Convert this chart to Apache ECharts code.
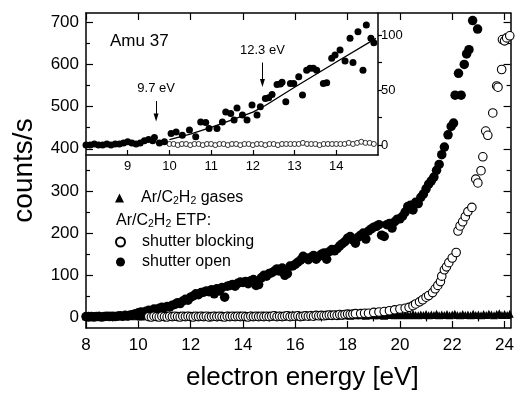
<!DOCTYPE html>
<html><head><meta charset="utf-8">
<script src="https://cdn.jsdelivr.net/npm/echarts@6/dist/echarts.min.js"></script>
<style>html,body{margin:0;padding:0;background:#fff}#c{width:517px;height:396px}</style>
</head><body><div id="c"></div>
<script>
const FONT = '"Liberation Sans", Arial, Helvetica, sans-serif';

// ---- main plot: tick labels ----
const xMajor = [8,10,12,14,16,18,20,22,24];
const xMinor = [9,11,13,15,17,19,21,23];
const yMajor = [0,100,200,300,400,500,600,700];
const yMinor = [50,150,250,350,450,550,650];
// ---- inset tick labels ----
const insetX = [9,10,11,12,13,14];
const insetYMajor = [0,50,100];
const insetYTicks = [0,25,50,75,100];

// ---- Ar/C2H2 gases (triangles) ----
const gases = [[8.0,3],[8.1,5],[8.2,2],[8.3,4],[8.4,3],[8.5,6],[8.6,2],[8.7,4],[8.8,3],[8.9,5],
[9.0,2],[9.1,4],[9.2,6],[9.3,3],[9.4,4],[9.5,2],[9.6,5],[9.7,3],[9.8,4],[9.9,6],
[10.0,3],[10.1,2],[10.2,5],[10.3,4],[10.4,3],[10.5,6],[10.6,4],[10.7,2],[10.8,5],[10.9,3],
[11.0,4],[11.1,6],[11.2,3],[11.3,5],[11.4,2],[11.5,4],[11.6,6],[11.7,3],[11.8,4],[11.9,5],
[12.0,3],[12.1,6],[12.2,4],[12.3,2],[12.4,5],[12.5,4],[12.6,3],[12.7,6],[12.8,4],[12.9,5],
[13.0,3],[13.1,4],[13.2,6],[13.3,3],[13.4,5],[13.5,4],[13.6,2],[13.7,5],[13.8,4],[13.9,6],
[14.0,3],[14.1,5],[14.2,4],[14.3,6],[14.4,3],[14.5,4],[14.6,5],[14.7,3],[14.8,6],[14.9,4],
[15.0,5],[15.1,3],[15.2,6],[15.3,4],[15.4,5],[15.5,3],[15.6,6],[15.7,4],[15.8,5],[15.9,7],
[16.0,4],[16.1,5],[16.2,3],[16.3,6],[16.4,5],[16.5,4],[16.6,7],[16.7,4],[16.8,5],[16.9,6],
[17.0,4],[17.1,7],[17.2,5],[17.3,4],[17.4,6],[17.5,5],[17.6,7],[17.7,4],[17.8,6],[17.9,5],
[18.0,7],[18.1,4],[18.2,6],[18.3,5],[18.4,8],[18.5,5],[18.6,6],[18.7,4],[18.8,7],[18.9,6],
[19.0,5],[19.1,8],[19.2,5],[19.3,6],[19.4,4],[19.5,7],[19.6,6],[19.7,9],[19.8,5],[19.9,6],
[20.0,7],[20.1,5],[20.2,8],[20.3,6],[20.4,5],[20.5,9],[20.6,6],[20.7,5],[20.8,7],[20.9,6],
[21.0,8],[21.1,5],[21.2,7],[21.3,6],[21.4,9],[21.5,5],[21.6,7],[21.7,6],[21.8,8],[21.9,5],
[22.0,7],[22.1,9],[22.2,6],[22.3,5],[22.4,8],[22.5,6],[22.6,7],[22.7,5],[22.8,9],[22.9,6],
[23.0,7],[23.1,5],[23.2,8],[23.3,6],[23.4,9],[23.5,7],[23.6,5],[23.7,8],[23.8,10],[23.9,6],
[24.0,8],[24.1,6],[24.2,9]];

// ---- ETP shutter blocking (open circles) ----
const blocking = [[10.4,2],[10.5,1],[10.6,3],[10.7,2],[10.8,1],[10.9,3],[11.0,2],[11.1,1],[11.2,3],[11.3,2],
[11.4,3],[11.5,2],[11.6,1],[11.7,3],[11.8,2],[11.9,3],[12.0,2],[12.1,1],[12.2,3],[12.3,2],
[12.4,3],[12.5,2],[12.6,3],[12.7,1],[12.8,2],[12.9,3],[13.0,2],[13.1,3],[13.2,2],[13.3,1],
[13.4,3],[13.5,2],[13.6,3],[13.7,2],[13.8,3],[13.9,2],[14.0,3],[14.1,2],[14.2,1],[14.3,3],
[14.4,2],[14.5,3],[14.6,2],[14.7,3],[14.8,2],[14.9,3],[15.0,2],[15.1,3],[15.2,4],[15.3,2],
[15.4,3],[15.5,2],[15.6,3],[15.7,4],[15.8,2],[15.9,3],[16.0,3],[16.1,4],[16.2,2],[16.3,3],
[16.4,4],[16.5,3],[16.6,4],[16.7,3],[16.8,5],[16.9,4],[17.0,5],[17.1,4],[17.2,5],[17.3,6],
[17.4,5],[17.5,6],[17.6,5],[17.7,7],[17.8,6],[17.9,7],[18.0,8],[18.1,7],[18.2,8],[18.3,9],
[18.5,9],[18.65,10],[18.8,10],[19.0,12],[19.2,13],[19.4,14],[19.6,16],[19.8,18],[20.0,20],[20.2,22],
[20.35,24],[20.5,28],[20.6,32],[20.75,37],[20.87,42],[21.0,48],[21.1,52],[21.25,59],[21.35,68],[21.45,76],
[21.55,85],[21.6,98],[21.7,113],[21.78,120],[21.87,130],[22.0,141],[22.15,154],[22.22,205],[22.3,217],[22.4,227],
[22.5,239],[22.6,251],[22.75,261],[22.9,328],[22.98,319],[23.1,348],[23.17,381],[23.28,442],[23.36,432],[23.55,485],
[23.7,549],[23.75,546],[23.89,588],[23.92,659],[24.0,656],[24.08,663],[24.2,668]];

// ---- ETP shutter open (filled circles) ----
const shutterOpen = [[8.0,2],[8.1,1],[8.2,2],[8.3,1],[8.4,2],[8.5,2],[8.6,1],[8.7,2],[8.8,3],[8.9,2],
[9.0,3],[9.1,2],[9.2,3],[9.3,4],[9.4,3],[9.5,5],[9.6,4],[9.7,6],[9.8,7],[9.9,9],
[10.0,11],[10.1,13],[10.2,12],[10.3,15],[10.4,17],[10.5,16],[10.6,20],[10.7,19],[10.8,22],[10.9,24],
[11.0,23],[11.1,26],[11.2,25],[11.3,29],[11.4,31],[11.5,35],[11.6,33],[11.7,39],[11.8,43],[11.9,41],
[12.0,48],[12.1,51],[12.2,56],[12.3,54],[12.4,59],[12.5,60],[12.6,63],[12.7,61],[12.8,66],[12.9,56],
[13.0,68],[13.1,63],[13.2,71],[13.3,48],[13.4,74],[13.5,76],[13.6,78],[13.7,74],[13.8,81],[13.9,84],
[14.0,83],[14.1,85],[14.2,80],[14.3,87],[14.4,90],[14.5,76],[14.6,78],[14.7,94],[14.8,100],[14.9,98],
[15.0,104],[15.1,106],[15.2,110],[15.3,115],[15.4,110],[15.5,117],[15.6,100],[15.7,104],[15.8,122],[15.9,122],
[16.0,126],[16.1,131],[16.2,136],[16.3,145],[16.4,141],[16.5,137],[16.6,143],[16.7,147],[16.8,138],[16.9,145],
[17.0,150],[17.1,153],[17.2,138],[17.3,156],[17.4,161],[17.5,158],[17.6,163],[17.7,170],[17.8,175],[17.9,180],
[18.0,188],[18.1,192],[18.2,184],[18.3,176],[18.4,190],[18.5,195],[18.6,200],[18.7,186],[18.8,205],[18.9,210],
[19.0,214],[19.1,216],[19.2,220],[19.3,195],[19.4,192],[19.5,220],[19.6,223],[19.7,212],[19.8,227],[19.9,233],
[20.0,234],[20.1,240],[20.2,250],[20.3,263],[20.4,266],[20.5,255],[20.6,273],[20.7,270],[20.8,285],[20.9,293],
[21.0,305],[21.1,316],[21.2,324],[21.3,333],[21.4,349],[21.5,363],[21.6,386],[21.7,404],[21.84,433],[21.96,453],
[22.05,461],[22.11,527],[22.24,579],[22.34,527],[22.46,600],[22.55,625],[22.64,635],[22.78,704],[22.97,684]];

// ---- inset (Amu 37) ----
const insetOpen = [[8.0,0],[8.1,0],[8.2,1],[8.3,0],[8.4,0],[8.5,1],[8.6,0],[8.7,1],[8.8,1],[8.9,2],
[9.0,3],[9.1,2],[9.2,1],[9.3,2],[9.4,4],[9.5,5],[9.6,4],[9.64,7],[9.76,2],[9.88,3],
[10.04,10.6],[10.16,12],[10.31,9],[10.48,13.6],[10.63,7.5],[10.75,21],[10.87,20.6],[10.95,15],[11.14,15],[11.27,21],
[11.35,30],[11.47,28.8],[11.55,22.7],[11.62,33.6],[11.75,27.3],[11.86,22.7],[11.98,36.4],[12.1,27.3],[12.18,34.8],[12.3,42.4],
[12.38,43],[12.46,46],[12.58,55],[12.66,55.5],[12.7,57],[12.79,39.4],[12.9,56],[12.98,56],[13.1,62],[13.19,45.5],
[13.29,68],[13.37,69.7],[13.45,69.7],[13.53,68],[13.69,56],[13.77,56.7],[13.89,78.8],[13.97,81.8],[14.09,86.4],[14.21,76.4],
[14.33,97],[14.4,75],[14.52,103],[14.64,68],[14.72,109],[14.83,97],[14.9,93]];
const insetBlocking = [[10.0,1],[10.1,1],[10.2,0],[10.3,1],[10.4,1],[10.5,0],[10.6,1],[10.7,1],[10.8,0],[10.9,1],
[11.0,1],[11.1,0],[11.2,1],[11.3,1],[11.4,0],[11.5,1],[11.6,1],[11.7,0],[11.8,1],[11.9,1],
[12.0,0],[12.1,1],[12.2,1],[12.3,0],[12.4,1],[12.5,1],[12.6,0],[12.7,1],[12.8,1],[12.9,1],
[13.0,1],[13.1,1],[13.2,2],[13.3,1],[13.4,1],[13.5,1],[13.6,0],[13.7,1],[13.8,1],[13.9,1],
[14.0,1],[14.1,1],[14.2,1],[14.3,2],[14.4,1],[14.5,2],[14.6,3],[14.7,2],[14.8,2],[14.9,1]];
const insetFit = [[10.0,5],[10.5,10],[11.0,16],[11.5,23],[12.0,30],[12.3,36],[13.0,52.5],[14.0,75.5],[14.95,97]];
const arrow97 = {x: 9.68, top: 40, tip: 25};
const arrow123 = {x: 12.23, top: 75, tip: 56.5};

const base = {fontSize: 16, lineHeight: 18, color: '#000', fontFamily: FONT, fontWeight: 'normal'};
const sub = {
  n: base,
  f: Object.assign({}, base, {padding: [0, 0, 0, 12]}),
  s: {fontSize: 10.5, lineHeight: 8, verticalAlign: 'bottom', color: '#000', fontFamily: FONT}
};
const legendText = {
  gases: '{f|Ar/C}{s|2}{n|H}{s|2}{n| gases}',
  blocking: '{f|shutter blocking}',
  open: '{f|shutter open}'
};

const lab = (fs) => ({color: '#000', fontSize: fs, fontFamily: FONT});
const blk = {color: '#000', width: 1.5};

function ax(grid, pos, min, max, ticks, len, extra) {
  return Object.assign({
    type: 'value', gridIndex: grid, position: pos, min: min, max: max,
    axisLine: {show: true, onZero: false, lineStyle: blk},
    axisTick: {show: true, inside: true, length: len, customValues: ticks, lineStyle: {color: '#000', width: 1.2}},
    axisLabel: {show: false},
    splitLine: {show: false}
  }, extra || {});
}
const noLine = {axisLine: {show: false}};
const YMIN = -25, YMAX = 722, XMAX = 24.23;

const legendCommon = {padding: 0, itemWidth: 9, itemHeight: 9, selectedMode: false, symbolKeepAspect: true,
  formatter: n => legendText[n], textStyle: {rich: sub}};

const option = {
  animation: false,
  backgroundColor: '#fff',
  grid: [
    {left: 86, right: 1, top: 13, bottom: 63},
    {left: 86, top: 13, width: 292, height: 142}
  ],
  title: [
    {text: 'Amu 37', left: 110, top: 33, padding: 0,
     textStyle: {fontSize: 17, fontWeight: 'normal', color: '#000', fontFamily: FONT}},
    {text: '{n|Ar/C}{s|2}{n|H}{s|2}{n| ETP:}', left: 116, top: 212, padding: 0,
     textStyle: {fontWeight: 'normal', rich: sub}}
  ],
  legend: [
    Object.assign({data: [{name: 'gases', icon: 'triangle'}], left: 115, top: 190}, legendCommon),
    Object.assign({data: [{name: 'blocking', icon: 'circle'}, {name: 'open', icon: 'circle'}],
      orient: 'vertical', left: 115, top: 234, itemGap: 4}, legendCommon)
  ],
  xAxis: [
    ax(0, 'bottom', 8, XMAX, xMajor, 7, {
      axisLabel: Object.assign({show: true, customValues: xMajor, margin: 9}, lab(17)),
      name: 'electron energy [eV]', nameLocation: 'middle', nameGap: 37,
      nameTextStyle: {fontSize: 26, color: '#000', fontFamily: FONT, padding: [0, 0, 0, 8]}}),
    ax(0, 'bottom', 8, XMAX, xMinor, 4, noLine),
    ax(0, 'top', 8, XMAX, xMajor, 7),
    ax(0, 'top', 8, XMAX, xMinor, 4, noLine),
    ax(1, 'bottom', 8, 15, insetX, 5, {
      axisLabel: Object.assign({show: true, customValues: insetX, margin: 5}, lab(13))})
  ],
  yAxis: [
    ax(0, 'left', YMIN, YMAX, yMajor, 7, {
      axisLabel: Object.assign({show: true, customValues: yMajor, margin: 7}, lab(17)),
      name: 'counts/s', nameLocation: 'middle', nameGap: 48,
      nameTextStyle: {fontSize: 28, color: '#000', fontFamily: FONT}}),
    ax(0, 'left', YMIN, YMAX, yMinor, 4, noLine),
    ax(0, 'right', YMIN, YMAX, yMajor, 7),
    ax(0, 'right', YMIN, YMAX, yMinor, 4, noLine),
    ax(1, 'right', -9, 120, insetYTicks, 4, {
      axisTick: {show: true, inside: false, length: 4, customValues: insetYTicks, lineStyle: {color: '#000', width: 1.2}},
      axisLabel: Object.assign({show: true, customValues: insetYMajor, margin: 3}, lab(13))})
  ],
  series: [
    {name: 'gases', type: 'scatter', xAxisIndex: 0, yAxisIndex: 0, symbol: 'triangle', symbolSize: 8,
     itemStyle: {color: '#000', opacity: 1}, data: gases},
    {name: 'open', type: 'scatter', xAxisIndex: 0, yAxisIndex: 0, symbol: 'circle', symbolSize: 9.5,
     itemStyle: {color: '#000', opacity: 1}, data: shutterOpen},
    {name: 'blocking', type: 'scatter', xAxisIndex: 0, yAxisIndex: 0, symbol: 'circle', symbolSize: 8.5,
     itemStyle: {color: '#fff', borderColor: '#000', borderWidth: 1.1, opacity: 1}, data: blocking},
    {name: 'insetBlocking', type: 'scatter', xAxisIndex: 4, yAxisIndex: 4, symbol: 'circle', symbolSize: 5,
     itemStyle: {color: '#fff', borderColor: '#000', borderWidth: 0.8, opacity: 1}, data: insetBlocking},
    {name: 'insetOpen', type: 'scatter', xAxisIndex: 4, yAxisIndex: 4, symbol: 'circle', symbolSize: 7,
     itemStyle: {color: '#000', opacity: 1}, data: insetOpen},
    {name: 'fit', type: 'line', xAxisIndex: 4, yAxisIndex: 4, showSymbol: false, symbol: 'none',
     lineStyle: {color: '#000', width: 1.3}, data: insetFit,
     markLine: {
       silent: true, symbol: ['none', 'triangle'], symbolSize: [5, 8],
       lineStyle: {color: '#000', width: 1, type: 'solid'},
       label: {show: true, position: 'start', distance: 6, color: '#000', fontSize: 13, fontFamily: FONT},
       data: [
         [{coord: [arrow97.x, arrow97.top], label: {formatter: '9.7 eV'}}, {coord: [arrow97.x, arrow97.tip]}],
         [{coord: [arrow123.x, arrow123.top], label: {formatter: '12.3 eV'}}, {coord: [arrow123.x, arrow123.tip]}]
       ]
     }}
  ]
};
const chart = echarts.init(document.getElementById('c'), null, {renderer: 'canvas'});
chart.setOption(option);
</script></body></html>
